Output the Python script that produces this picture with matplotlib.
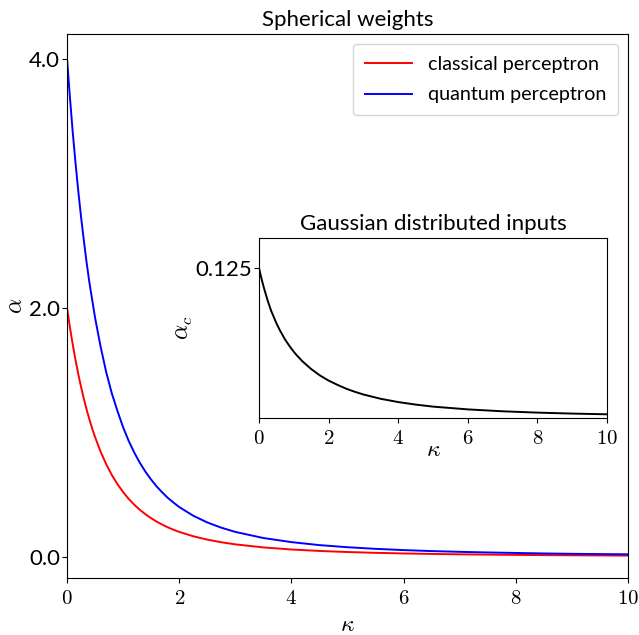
import matplotlib
matplotlib.use('Agg')
import matplotlib.pyplot as plt

plt.rcParams['mathtext.fontset'] = 'cm'
plt.rcParams['font.family'] = ['Lato', 'DejaVu Sans']

# spherical weights
kappa = [0, 0.05, 0.1, 0.15, 0.2, 0.25, 0.3, 0.35, 0.4, 0.45, 0.5, 0.6, 0.7,
         0.8, 0.9, 1.0, 1.1, 1.2, 1.3, 1.4, 1.5, 1.6, 1.7, 1.8, 1.9, 2.0,
         2.25, 2.5, 2.75, 3.0, 3.5, 4.0, 4.5, 5.0, 5.5, 6.0, 6.5, 7.0, 7.5,
         8.0, 8.5, 9.0, 9.5, 10.0]
alpha_classical = [2.0, 1.848, 1.71, 1.584, 1.469, 1.365, 1.269, 1.182, 1.102,
                   1.029, 0.961, 0.843, 0.742, 0.656, 0.583, 0.520, 0.465,
                   0.418, 0.377, 0.341, 0.310, 0.282, 0.258, 0.236, 0.217,
                   0.200, 0.165, 0.138, 0.117, 0.100, 0.0755, 0.0588, 0.0471,
                   0.0385, 0.032, 0.027, 0.0231, 0.020, 0.0175, 0.0154,
                   0.0137, 0.0122, 0.011, 0.0099]
alpha_quantum = [4.0, 3.70, 3.42, 3.17, 2.94, 2.73, 2.54, 2.36, 2.20,
                 2.06, 1.92, 1.685, 1.48, 1.31, 1.17, 1.04, 0.93,
                 0.836, 0.754, 0.682, 0.620, 0.564, 0.516, 0.472, 0.435,
                 0.40, 0.330, 0.276, 0.234, 0.20, 0.151, 0.118, 0.094,
                 0.077, 0.064, 0.054, 0.046, 0.040, 0.035, 0.031,
                 0.027, 0.024, 0.022, 0.020]

# gaussian distributed inputs (inset)
kappa_g = [0, 0.05, 0.1, 0.15, 0.25, 0.35, 0.5, 0.6, 0.75, 0.9, 1.0, 1.1,
           1.25, 1.5, 1.75, 2.0, 2.25, 2.5, 2.75, 3.0, 3.5, 4.0, 4.5, 5.0,
           6.0, 7.0, 8.0, 9.0, 10.0]
alpha_g = [0.125, 0.1188, 0.1130, 0.1076, 0.0978, 0.0893, 0.0790, 0.0731,
           0.0654, 0.0590, 0.0552, 0.0518, 0.0472, 0.0408, 0.0355, 0.0312,
           0.0277, 0.0245, 0.0219, 0.0196, 0.0160, 0.0133, 0.0112, 0.0095,
           0.0072, 0.0056, 0.0045, 0.0037, 0.0031]

xticks = [0, 2, 4, 6, 8, 10]
main_yticks = [0.0, 2.0, 4.0]
inset_yticks = [0.125]

fig = plt.figure(figsize=(6.39, 6.35), dpi=100)
ax = fig.add_axes([0.1049, 0.0898, 0.8779, 0.8567])
ax.plot(kappa, alpha_classical, color='red', lw=1.4, label='classical perceptron')
ax.plot(kappa, alpha_quantum, color='blue', lw=1.4, label='quantum perceptron')
ax.set_xlim(0, 10)
ax.set_ylim(-0.17, 4.2)
ax.set_xticks(xticks)
ax.set_xticklabels([f'${t}$' for t in xticks], fontsize=15)
ax.set_yticks(main_yticks)
ax.set_yticklabels([f'{t:.1f}' for t in main_yticks], fontsize=16)
ax.tick_params(axis='y', pad=1.5)
ax.set_xlabel(r'$\kappa$', fontsize=17, labelpad=4.5)
ax.set_ylabel(r'$\alpha$', fontsize=17, labelpad=2)
ax.set_title('Spherical weights', fontsize=16)
ax.legend(loc='upper right', fontsize=14.2, handlelength=2.4,
          labelspacing=0.7, borderpad=0.6)

ins = fig.add_axes([0.4053, 0.3417, 0.5446, 0.2835])
ins.plot(kappa_g, alpha_g, color='black', lw=1.4)
ins.set_xlim(0, 10)
ins.set_ylim(0, 0.15)
ins.set_xticks(xticks)
ins.set_xticklabels([f'${t}$' for t in xticks], fontsize=15)
ins.set_yticks(inset_yticks)
ins.set_yticklabels(['0.125'], fontsize=16)
ins.tick_params(axis='y', pad=1.5)
ins.set_xlabel(r'$\kappa$', fontsize=17, labelpad=-6)
ins.set_ylabel(r'$\alpha_c$', fontsize=17, labelpad=0)
ins.set_title('Gaussian distributed inputs', fontsize=16)

fig.savefig('out.png', dpi=100)
